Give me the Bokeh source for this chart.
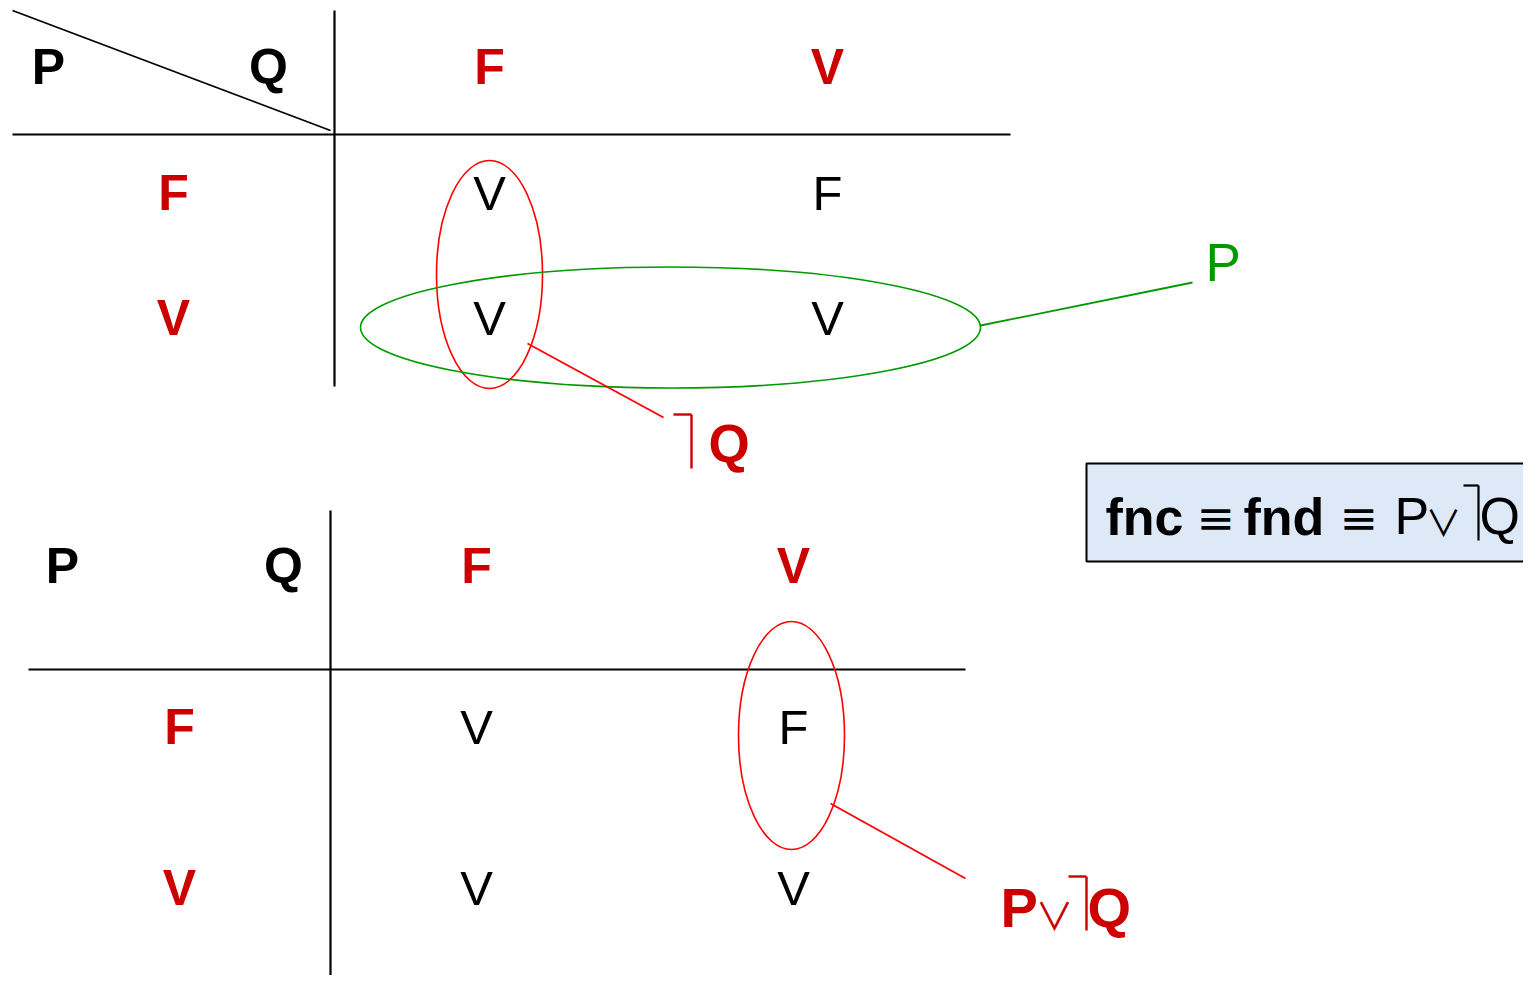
from bokeh.plotting import figure
from bokeh.models import Range1d
from bokeh.core.properties import value
from bokeh.embed import file_html
from bokeh.resources import INLINE

# ---- data: truth-table values ----
P_VALUES = ["F", "V"]                 # row headers (P)
Q_VALUES = ["F", "V"]                 # column headers (Q)
NOT_Q_TABLE = [["V", "F"],            # top table cells, rows = P, cols = Q
               ["V", "V"]]
RESULT_TABLE = [["V", "F"],           # bottom table cells
                ["V", "V"]]
HEAD_P, HEAD_Q = "P", "Q"
LABEL_P = "P"
LABEL_OR = "\u2228"                   # ∨
LABEL_EQ = "\u2261"                   # ≡

RED_TXT = "#cc0000"
RED_LINE = "#ff0000"
GREEN = "#009900"
FONT = "Liberation Sans"
SYM_FONT = "DejaVu Sans"
OR_FONT = "Noto Sans CJK JP"

W, H = 1523, 975
p = figure(width=W, height=H, output_backend="svg", toolbar_location=None,
           x_range=Range1d(0, W), y_range=Range1d(H, 0),
           min_border=0)
p.axis.visible = False
p.grid.visible = False
p.outline_line_color = None
p.background_fill_color = "white"
p.border_fill_color = "white"


def txt(x, y, s, size, color="black", bold=False, align="center", font=FONT):
    # y is the desired baseline (pixels); compensate renderer offset
    p.text(x=[x], y=[y - 0.38 * size], text=[s], text_font=value(font),
           text_font_size=f"{size}px", text_color=color,
           text_font_style="bold" if bold else "normal",
           text_align=align, text_baseline="alphabetic")


def neg(x_left, x_right, y_top, y_bot, color, width=2.4):
    # the negation hook ⌉
    p.segment(x0=[x_left, x_right], y0=[y_top, y_top],
              x1=[x_right, x_right], y1=[y_top, y_bot],
              line_color=color, line_width=width)


def table(x0, x1, y_top, y_bot, vx, hy, col_x, row_y, head_y, px, qx, rowlab_x,
          cells, diag=None):
    p.segment(x0=[x0], y0=[hy], x1=[x1], y1=[hy], line_color="black", line_width=2.2)
    p.segment(x0=[vx], y0=[y_top], x1=[vx], y1=[y_bot], line_color="black", line_width=2.2)
    if diag:
        p.segment(x0=[diag[0]], y0=[diag[1]], x1=[diag[2]], y1=[diag[3]],
                  line_color="black", line_width=1.8)
    txt(px, head_y, HEAD_P, 50, bold=True)
    txt(qx, head_y, HEAD_Q, 50, bold=True)
    for j, q in enumerate(Q_VALUES):
        txt(col_x[j], head_y, q, 50, color=RED_TXT, bold=True)
    for i, pv in enumerate(P_VALUES):
        txt(rowlab_x, row_y[i], pv, 50, color=RED_TXT, bold=True)
        for j in range(len(Q_VALUES)):
            txt(col_x[j], row_y[i], cells[i][j], 49)


# ---- top table ----
table(12, 1010, 10, 386, 334, 134, [489, 827], [211, 336], 85, 48, 268, 173,
      NOT_Q_TABLE, diag=(12, 10, 330, 130))

p.ellipse(x=[489], y=[274], width=[106], height=[228], fill_color=None,
          line_color=RED_LINE, line_width=1.6)
p.ellipse(x=[670], y=[327], width=[620], height=[121], fill_color=None,
          line_color=GREEN, line_width=1.6)
# green callout -> P
p.segment(x0=[980], y0=[325], x1=[1192], y1=[282], line_color=GREEN, line_width=1.8)
txt(1205, 282, LABEL_P, 53, color=GREEN, align="left")
# red callout -> ⌉Q
p.segment(x0=[527], y0=[343], x1=[663], y1=[417], line_color=RED_LINE, line_width=1.8)
neg(673, 691, 414, 468, RED_TXT)
txt(708, 463, "Q", 53, color=RED_TXT, bold=True, align="left")

# ---- bottom table ----
table(28, 965, 510, 991, 330, 669, [476, 793], [745, 906], 584, 62, 283, 179,
      RESULT_TABLE)
p.ellipse(x=[791], y=[735], width=[106], height=[228], fill_color=None,
          line_color=RED_LINE, line_width=1.6)
p.segment(x0=[830], y0=[803], x1=[965], y1=[878], line_color=RED_LINE, line_width=1.8)
txt(1000, 928, "P", 56, color=RED_TXT, bold=True, align="left")
txt(1054, 927, LABEL_OR, 38, color=RED_TXT, align="center", font=OR_FONT)
neg(1068, 1086, 876, 930, RED_TXT)
txt(1087, 928, "Q", 56, color=RED_TXT, bold=True, align="left")

# ---- formula box ----
p.quad(left=[1086], right=[1545], top=[463], bottom=[561],
       fill_color="#dde9f6", line_color="black", line_width=2)
txt(1105, 536, "fnc", 52, bold=True, align="left")
txt(1196, 535, LABEL_EQ, 46, align="left", font=SYM_FONT)
txt(1243, 536, "fnd", 52, bold=True, align="left")
txt(1339, 535, LABEL_EQ, 46, align="left", font=SYM_FONT)
txt(1394, 535, "P", 52, align="left")
txt(1443, 534, LABEL_OR, 36, align="center", font=OR_FONT)
neg(1463, 1478, 485, 540, "black", width=2.2)
txt(1479, 535, "Q", 52, align="left")

open("out.html", "w").write(file_html(p, INLINE))
